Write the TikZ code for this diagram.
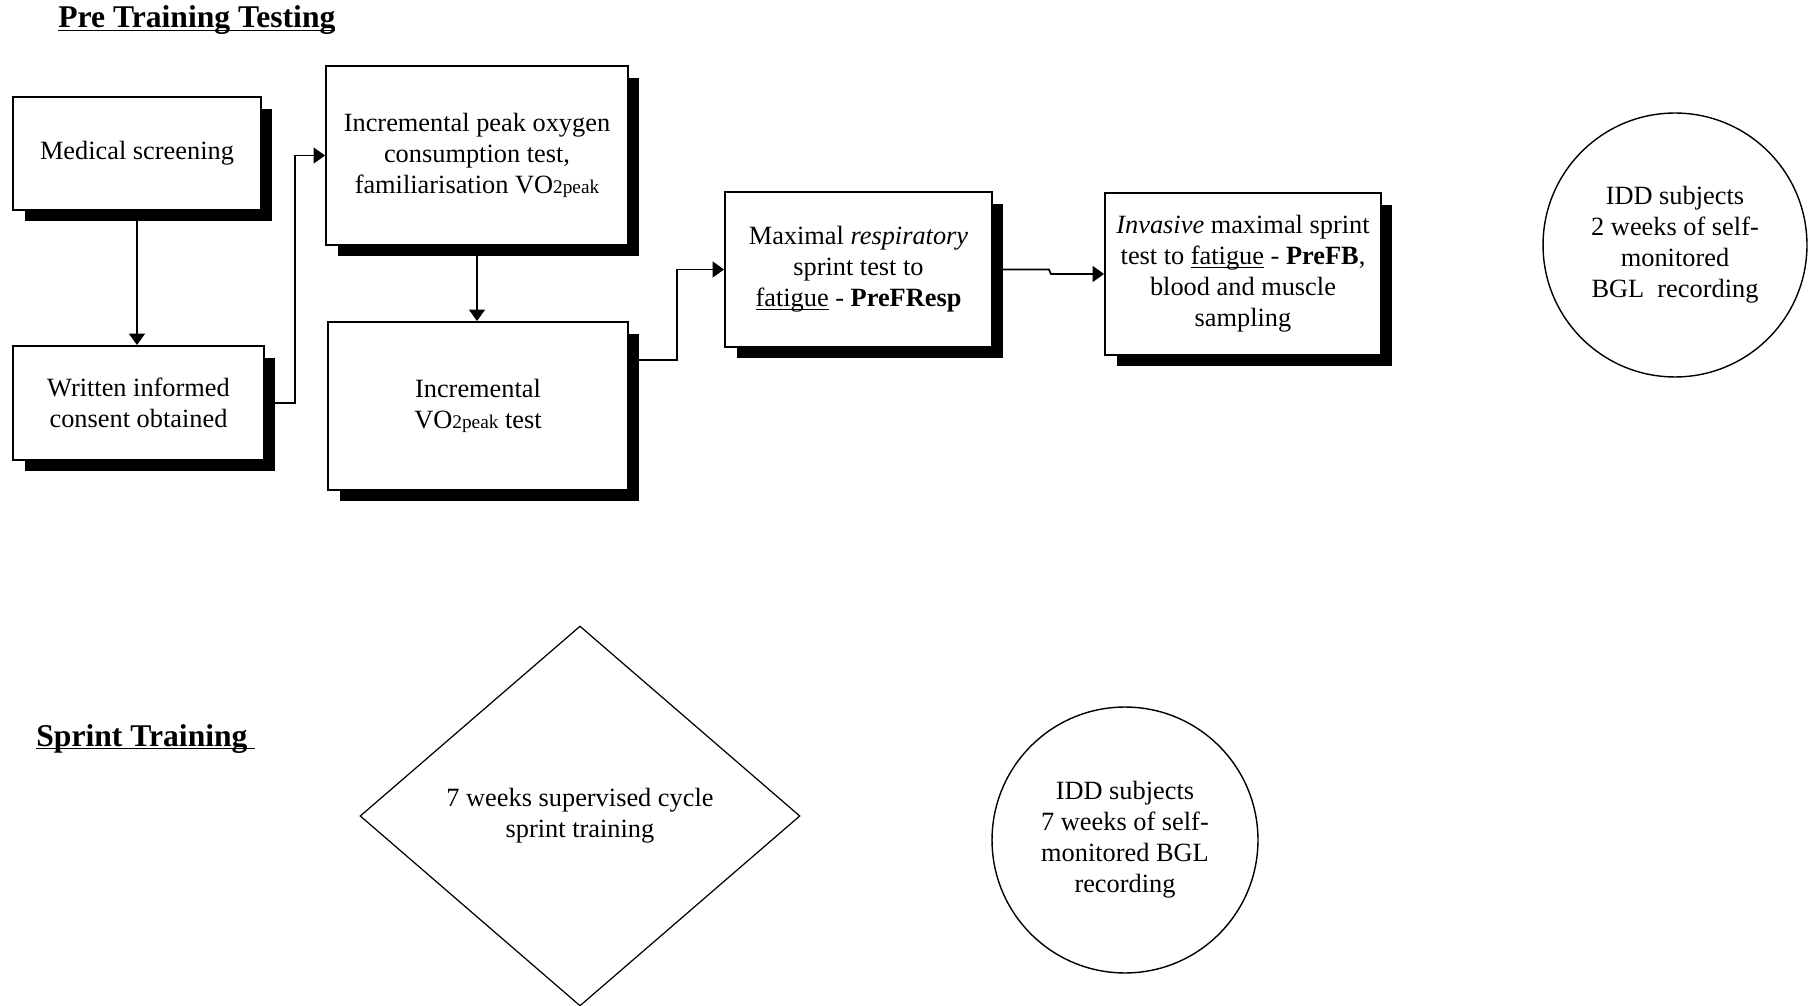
\documentclass[tikz,border=0pt]{standalone}
\usepackage{fontspec}
\setmainfont{Liberation Serif}
\usepackage{tikz}
\usetikzlibrary{arrows.meta, shapes.geometric, shadows}

\newcommand{\vopeak}{VO{\fontsize{11}{17.6}\selectfont 2peak}}
\newcommand{\uword}[1]{\underline{\smash{#1}}}

\begin{document}
\begin{tikzpicture}[x=0.02cm, y=-0.02cm,
        box/.style={rectangle, draw, line width=1.1pt, fill=white, inner sep=0pt, align=center,
            font=\fontsize{15}{17.6}\selectfont,
            drop shadow={shadow xshift=0.23cm, shadow yshift=-0.23cm, fill=black, opacity=1}},
        ring/.style={circle, draw, line width=0.8pt, inner sep=0pt, align=center,
            font=\fontsize{15}{17.6}\selectfont},
        flow/.style={-{Triangle[length=6.5pt, width=9pt]}, line width=1pt},
        heading/.style={anchor=base west, inner sep=0pt, font=\fontsize{18}{21}\selectfont\bfseries}]
    \useasboundingbox (0,0) rectangle (1809,1006);

    \node[heading] at (58,28) (pretitle) {\uword{Pre Training Testing}};
    \node[heading] at (36,746) (sprinttitle) {\uword{Sprint Training\ }};

    \node[box, minimum width=4.96cm, minimum height=2.26cm] at (137,153.5) (med) {Medical screening};
    \node[box, minimum width=5.02cm, minimum height=2.28cm] at (138.5,403) (consent) {Written informed\\consent obtained};
    \node[box, minimum width=6.04cm, minimum height=3.58cm] at (477,155.5) (peaktest) {Incremental peak oxygen\\consumption test,\\familiarisation \vopeak};
    \node[box, minimum width=6.00cm, minimum height=3.36cm] at (478,406) (votest) {Incremental\\\vopeak{} test};
    \node[box, minimum width=5.34cm, minimum height=3.10cm] at (858.5,269.5) (resp) {Maximal \textit{respiratory}\\sprint test to\\\uword{fatigue} - \textbf{PreFResp}};
    \node[box, minimum width=5.52cm, minimum height=3.24cm] at (1243,274) (invasive) {\textit{Invasive} maximal sprint\\test to \uword{fatigue} - \textbf{PreFB},\\blood and muscle\\sampling};

    \node[ring, minimum size=5.28cm] at (1675,245) (bgltwo) {IDD subjects\\2 weeks of self-\\monitored\\BGL\ \ recording};
    \node[ring, minimum size=5.32cm] at (1125,840) (bglseven) {IDD subjects\\7 weeks of self-\\monitored BGL\\recording};

    \node[diamond, draw, line width=0.7pt, minimum width=8.8cm, minimum height=7.6cm, inner sep=0pt, align=center,
        font=\fontsize{15}{17.6}\selectfont] at (580,816) (training) {7 weeks supervised cycle\\sprint training};

    \coordinate (voout) at ([yshift=-0.78cm]votest.north east);

    \draw[flow] (med.south) -- (med.south |- consent.north);
    \draw[flow] (consent.east) -- ++(30,0) |- (peaktest.west);
    \draw[flow] (peaktest.south) -- (peaktest.south |- votest.north);
    \draw[flow] (voout) -- ++(48,0) |- (resp.west);
    \draw[flow] (resp.east) -- ++(56,0) -- ++(2,4.5) -- (invasive.west);
\end{tikzpicture}
\end{document}
